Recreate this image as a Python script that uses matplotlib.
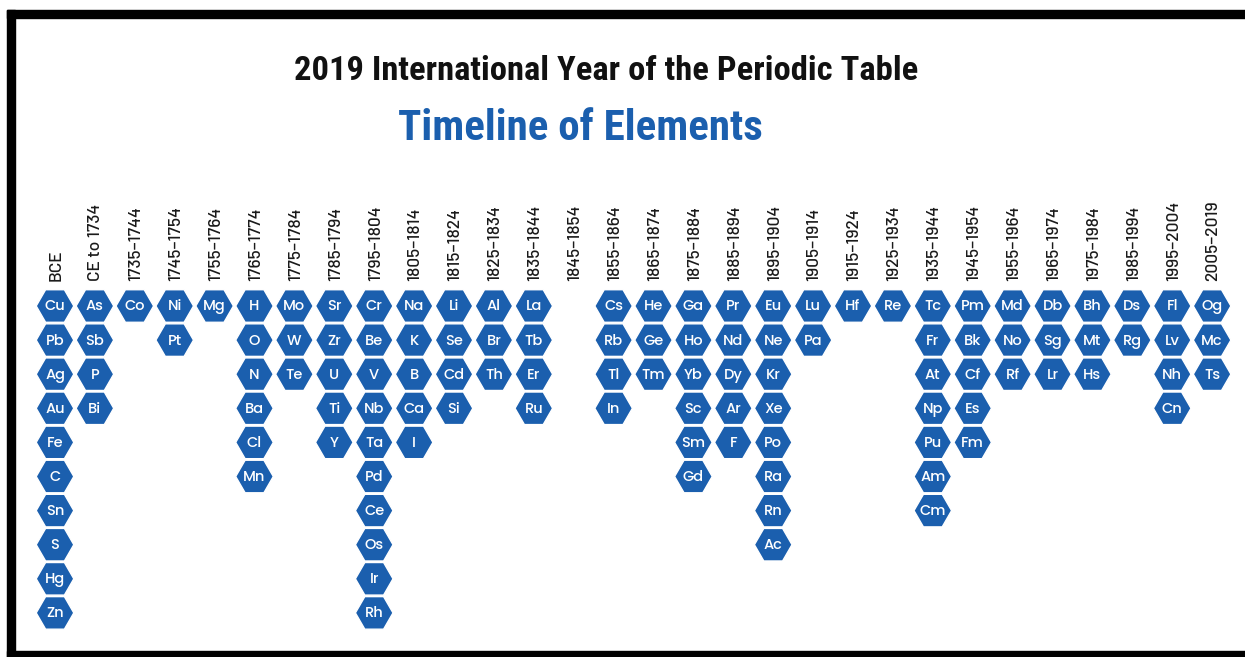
import matplotlib
matplotlib.use("Agg")
import matplotlib.pyplot as plt
import numpy as np
from matplotlib.patches import RegularPolygon, Rectangle

# period labels and the elements found in each period
periods = ["BCE", "CE to 1734", "1735\u20131744", "1745\u20131754", "1755\u20131764",
           "1765\u20131774", "1775\u20131784", "1785\u20131794", "1795\u20131804",
           "1805\u20131814", "1815\u20131824", "1825\u20131834", "1835\u20131844",
           "1845\u20131854", "1855\u20131864", "1865\u20131874", "1875\u20131884",
           "1885\u20131894", "1895\u20131904", "1905\u20131914", "1915\u20131924",
           "1925\u20131934", "1935\u20131944", "1945\u20131954", "1955\u20131964",
           "1965\u20131974", "1975\u20131984", "1985\u20131994", "1995\u20132004",
           "2005\u20132019"]

elements = [
    ["Cu", "Pb", "Ag", "Au", "Fe", "C", "Sn", "S", "Hg", "Zn"],
    ["As", "Sb", "P", "Bi"],
    ["Co"],
    ["Ni", "Pt"],
    ["Mg"],
    ["H", "O", "N", "Ba", "Cl", "Mn"],
    ["Mo", "W", "Te"],
    ["Sr", "Zr", "U", "Ti", "Y"],
    ["Cr", "Be", "V", "Nb", "Ta", "Pd", "Ce", "Os", "Ir", "Rh"],
    ["Na", "K", "B", "Ca", "I"],
    ["Li", "Se", "Cd", "Si"],
    ["Al", "Br", "Th"],
    ["La", "Tb", "Er", "Ru"],
    [],
    ["Cs", "Rb", "Tl", "In"],
    ["He", "Ge", "Tm"],
    ["Ga", "Ho", "Yb", "Sc", "Sm", "Gd"],
    ["Pr", "Nd", "Dy", "Ar", "F"],
    ["Eu", "Ne", "Kr", "Xe", "Po", "Ra", "Rn", "Ac"],
    ["Lu", "Pa"],
    ["Hf"],
    ["Re"],
    ["Tc", "Fr", "At", "Np", "Pu", "Am", "Cm"],
    ["Pm", "Bk", "Cf", "Es", "Fm"],
    ["Md", "No", "Rf"],
    ["Db", "Sg", "Lr"],
    ["Bh", "Mt", "Hs"],
    ["Ds", "Rg"],
    ["Fl", "Lv", "Nh", "Cn"],
    ["Og", "Mc", "Ts"],
]

title_top = "2019 International Year of the Periodic Table"
title_sub = "Timeline of Elements"

blue = "#1b5fae"
W, H = 1245, 657

fig = plt.figure(figsize=(W / 100, H / 100), dpi=100)
ax = fig.add_axes([0, 0, 1, 1])
ax.set_xlim(0, W)
ax.set_ylim(H, 0)
ax.axis("off")

# frame bands (top, left, bottom)
ax.add_patch(Rectangle((7, 10), W - 7, 8, color="black"))
ax.add_patch(Rectangle((7, 10), 8, H - 10, color="black"))
ax.add_patch(Rectangle((7, 651), W - 7, 6, color="black"))

# titles
cond = ["Roboto Condensed", "Oswald", "DejaVu Sans"]
ax.text(606, 71, title_top, ha="center", va="center", fontsize=24.8,
        fontweight="bold", family=cond, color="#111111")
ax.text(580, 128, title_sub, ha="center", va="center", fontsize=31,
        fontweight="bold", family=cond, color=blue)

x0, dx = 55, 39.9
y0, dy = 306, 34.1
r = 18.8

for i, (label, col) in enumerate(zip(periods, elements)):
    x = x0 + i * dx
    ax.text(x + 1, 281, label, rotation=90, ha="center", va="bottom",
            fontsize=12.5, fontweight="medium",
            family=["Barlow", "Roboto", "DejaVu Sans"], color="#1a1a1a")
    for j, sym in enumerate(col):
        y = y0 + j * dy
        ax.add_patch(RegularPolygon((x, y), numVertices=6, radius=r,
                                    orientation=np.pi / 6, facecolor=blue,
                                    edgecolor="white", linewidth=1.0))
        ax.text(x, y + 1, sym, ha="center", va="center", fontsize=10.5,
                fontweight="medium", family=["Poppins", "Lato", "DejaVu Sans"],
                color="white")

fig.savefig("out.png", dpi=100)
